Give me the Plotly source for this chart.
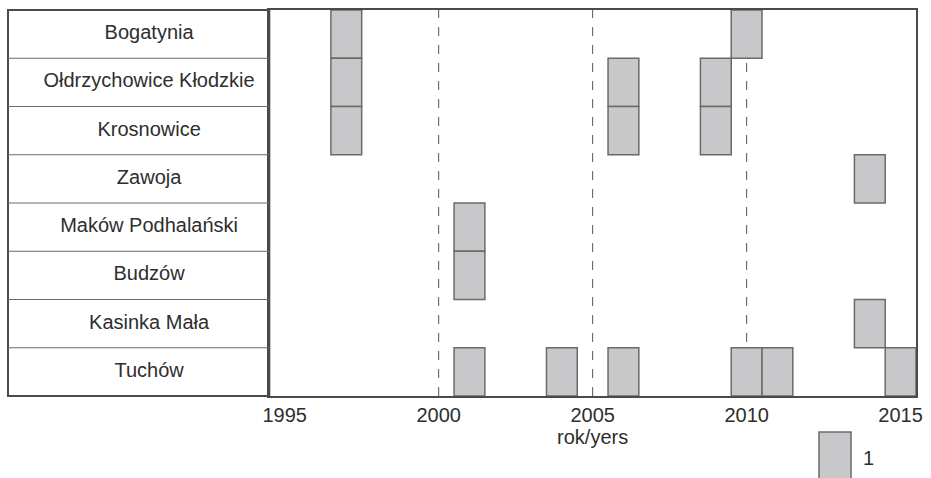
import plotly.graph_objects as go

# ---- data ----
places = ["Bogatynia", "Ołdrzychowice Kłodzkie", "Krosnowice", "Zawoja",
          "Maków Podhalański", "Budzów", "Kasinka Mała", "Tuchów"]
event_years = {
    "Bogatynia": [1997, 2010],
    "Ołdrzychowice Kłodzkie": [1997, 2006, 2009],
    "Krosnowice": [1997, 2006, 2009],
    "Zawoja": [2014],
    "Maków Podhalański": [2001],
    "Budzów": [2001],
    "Kasinka Mała": [2014],
    "Tuchów": [2001, 2004, 2006, 2010, 2011, 2015],
}
tick_years = [1995, 2000, 2005, 2010, 2015]
ref_years = [2000, 2005, 2010]
x_title = "rok/yers"
legend_label = "1"

# ---- styles ----
FONT = "Arial, Liberation Sans, sans-serif"
TXT = "#2e2e2e"
FILL = "#c8c8ca"
EDGE = "#6a6a6a"
FRAME = "#4a4a4a"
FS = 20
W, H = 931, 478
ML, MR, MT, MB = 8, 15, 10, 82
split = (269.3 - ML) / (W - ML - MR)

bar_y, bar_base, bar_len = [], [], []
for p in places:
    for yr in event_years[p]:
        bar_y.append(p)
        bar_base.append(yr - 0.5)
        bar_len.append(1)

fig = go.Figure()
fig.add_trace(go.Bar(
    orientation="h", y=bar_y, x=bar_len, base=bar_base, width=1,
    marker=dict(color=FILL, line=dict(color=EDGE, width=1.5)),
    xaxis="x", yaxis="y", showlegend=False, hoverinfo="skip",
))
fig.add_trace(go.Scatter(
    x=[0.54] * len(places), y=places, mode="text", text=places,
    textfont=dict(family=FONT, size=FS, color=TXT),
    xaxis="x2", yaxis="y", showlegend=False, hoverinfo="skip",
))

shapes = []
for yr in ref_years:
    shapes.append(dict(type="line", xref="x", yref="y domain", x0=yr, x1=yr, y0=0, y1=1,
                       line=dict(color="#555555", width=1, dash="dash"), layer="below"))
shapes.append(dict(type="rect", xref="x2 domain", yref="y domain", x0=0, x1=1, y0=0, y1=1,
                   line=dict(color=FRAME, width=2)))
for i in range(1, len(places)):
    shapes.append(dict(type="line", xref="x2 domain", yref="y", x0=0, x1=1,
                       y0=i - 0.5, y1=i - 0.5, line=dict(color=EDGE, width=1)))
# legend swatch
ph = H - MT - MB
pw = W - ML - MR
shapes.append(dict(type="rect", xref="paper", yref="paper",
                   x0=(819 - ML) / pw, x1=(851 - ML) / pw,
                   y0=(H - MB - 490) / ph, y1=(H - MB - 432) / ph,
                   fillcolor=FILL, line=dict(color=EDGE, width=1.5)))

fig.update_layout(
    width=W, height=H,
    margin=dict(l=ML, r=MR, t=MT, b=MB, autoexpand=False),
    paper_bgcolor="white", plot_bgcolor="white",
    font=dict(family=FONT, size=FS, color=TXT),
    barmode="overlay",
    xaxis=dict(domain=[split, 1], range=[1994.5, 2015.5], tickvals=tick_years,
               ticktext=[str(t) for t in tick_years], ticks="", showgrid=False,
               zeroline=False, showline=True, mirror=True, linecolor=FRAME, linewidth=2,
               tickfont=dict(size=FS, color=TXT), automargin=False,
               title=dict(text=x_title, font=dict(size=FS, color=TXT), standoff=1),
               anchor="y"),
    xaxis2=dict(domain=[0, split], range=[0, 1], visible=False, anchor="y", automargin=False),
    yaxis=dict(type="category", categoryorder="array", categoryarray=list(reversed(places)),
               range=[-0.5, len(places) - 0.5], showticklabels=False, ticks="",
               showgrid=False, zeroline=False, showline=True, mirror=True, automargin=False,
               linecolor=FRAME, linewidth=2, anchor="x"),
    shapes=shapes,
    annotations=[dict(text=legend_label, xref="paper", yref="paper",
                      x=(868.5 - ML) / pw, y=(H - MB - 458) / ph,
                      xanchor="center", yanchor="middle",
                      showarrow=False, font=dict(size=FS, color=TXT))],
)

fig.write_html("out.html", config={"displayModeBar": False},
               post_script="document.body.style.margin='0';document.body.style.padding='0';")
